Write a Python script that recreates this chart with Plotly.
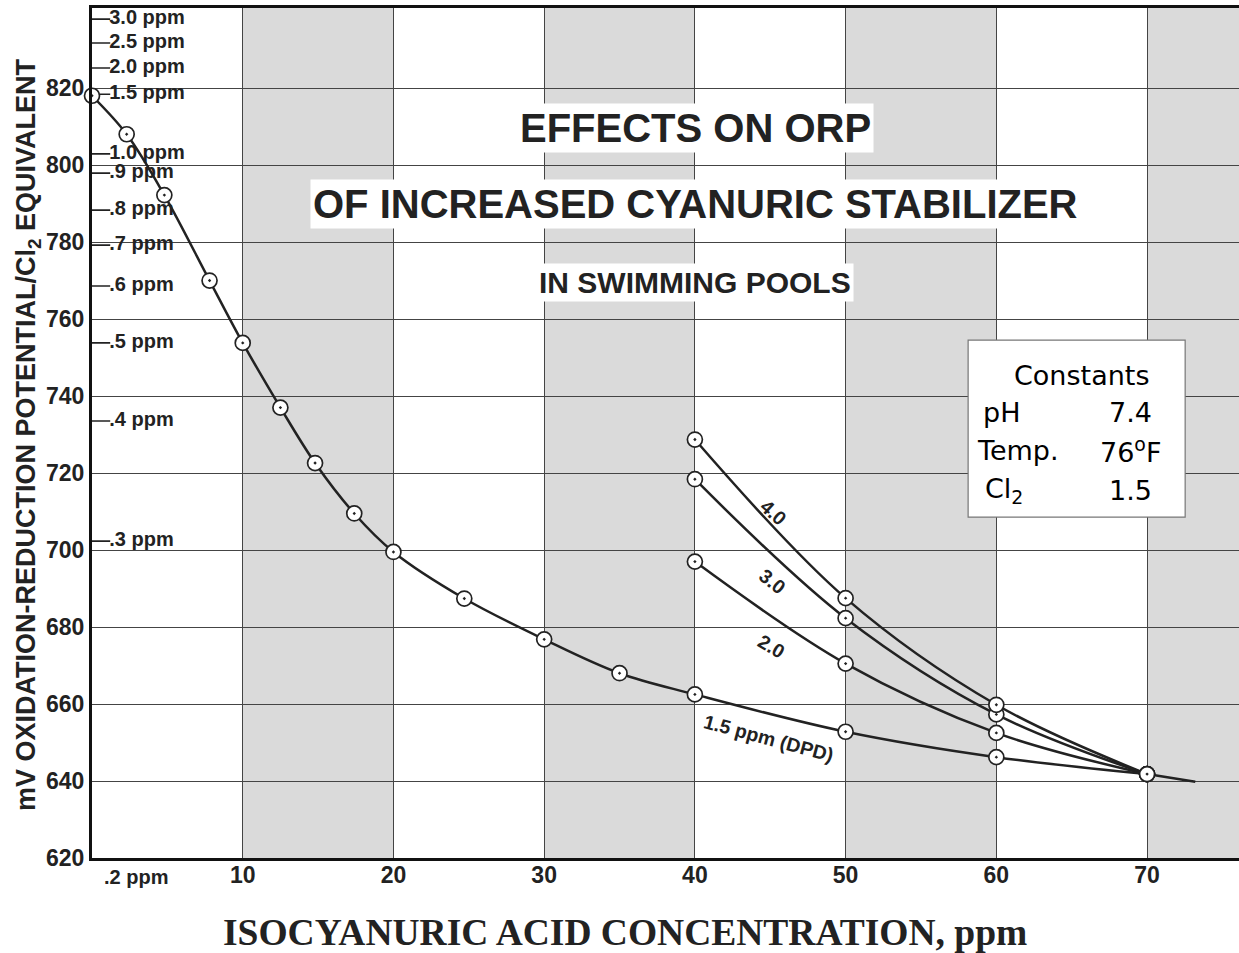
import plotly.graph_objects as go

# ---------------- data ----------------
# main curve: 1.5 ppm (DPD)
main_x = [0, 2.3, 4.8, 7.8, 10, 12.5, 14.8, 17.4, 20, 24.7, 30, 35, 40, 50, 60, 70]
main_y = [818, 808, 792.2, 770, 753.8, 737, 722.6, 709.5, 699.5, 687.4, 676.8, 668, 662.5, 652.8, 646.2, 641.8]
tail_x = [70, 73.2]
tail_y = [641.8, 639.8]

branch_x = [40, 50, 60, 70]
curve_40_y = [728.7, 687.5, 659.8, 641.8]
curve_30_y = [718.4, 682.3, 657.3, 641.8]
curve_20_y = [697.0, 670.5, 652.5, 641.8]

# free chlorine equivalents shown along the left axis
ppm_labels = ["3.0 ppm", "2.5 ppm", "2.0 ppm", "1.5 ppm", "1.0 ppm", ".9 ppm",
              ".8 ppm", ".7 ppm", ".6 ppm", ".5 ppm", ".4 ppm", ".3 ppm"]
ppm_mv = [837.9, 831.7, 825.2, 818.4, 802.9, 797.9, 788.3, 779.2, 768.6, 753.8, 733.5, 702.3]

x_ticks = [10, 20, 30, 40, 50, 60, 70]
y_ticks = [620, 640, 660, 680, 700, 720, 740, 760, 780, 800, 820]
shaded_bands = [(10, 20), (30, 40), (50, 60), (70, 80)]

X_RANGE = [0, 76.1]
Y_RANGE = [620, 840.8]

INK = "#222222"
BOLD = "Liberation Sans"


def bf(size, family=BOLD, color=INK):
    return dict(family=family, size=size, color=color, weight="bold")


fig = go.Figure()

marker_style = dict(symbol="circle-dot", size=15, color="white",
                    line=dict(color=INK, width=1.7))

# ppm tick marks + labels on the left
fig.add_trace(go.Scatter(
    x=[0] * len(ppm_mv), y=ppm_mv, mode="markers+text",
    marker=dict(symbol="line-ew", size=26, line=dict(color=INK, width=1.6)),
    text=ppm_labels, textposition="middle right",
    textfont=bf(20),
    hoverinfo="skip", showlegend=False, cliponaxis=True))

line_style = dict(color=INK, width=2.5, shape="spline", smoothing=1.0)

for ys in (curve_40_y, curve_30_y, curve_20_y):
    fig.add_trace(go.Scatter(x=branch_x, y=ys, mode="lines", line=line_style,
                             showlegend=False, hoverinfo="skip"))

fig.add_trace(go.Scatter(x=main_x, y=main_y, mode="lines", line=line_style,
                         showlegend=False, hoverinfo="skip"))
fig.add_trace(go.Scatter(x=tail_x, y=tail_y, mode="lines", line=line_style,
                         showlegend=False, hoverinfo="skip"))

for ys in (curve_20_y, curve_30_y, curve_40_y):
    fig.add_trace(go.Scatter(x=branch_x, y=ys, mode="markers", marker=marker_style,
                             showlegend=False, cliponaxis=False))
fig.add_trace(go.Scatter(x=main_x, y=main_y, mode="markers", marker=marker_style,
                         showlegend=False, cliponaxis=False))

# shaded columns
for a, b in shaded_bands:
    fig.add_shape(type="rect", xref="x", yref="y", x0=a, x1=b, y0=Y_RANGE[0], y1=Y_RANGE[1],
                  fillcolor="rgb(218,218,218)", line=dict(width=0), layer="below")


def px_to_x(px):
    return (px - 92) / 15.07


def py_to_y(py):
    return 620 + (858 - py) / 3.85


# titles inside the plot
for txt, py, size in [("EFFECTS ON ORP", 128, 40),
                      ("OF INCREASED CYANURIC STABILIZER", 204, 40),
                      ("IN SWIMMING POOLS", 282, 30)]:
    fig.add_annotation(x=px_to_x(695), y=py_to_y(py), xref="x", yref="y", text=txt,
                       showarrow=False, bgcolor="white", borderpad=2,
                       font=bf(size))

# curve labels
for txt, px, py, ang in [("4.0", 773, 512, 42), ("3.0", 772, 581, 38),
                         ("2.0", 771, 646, 30), ("1.5 ppm (DPD)", 768, 738, 15)]:
    fig.add_annotation(x=px_to_x(px), y=py_to_y(py), xref="x", yref="y", text=txt,
                       showarrow=False, textangle=ang, font=bf(19.5))

# constants box
fig.add_shape(type="rect", xref="x", yref="y",
              x0=px_to_x(968), x1=px_to_x(1185), y0=py_to_y(517), y1=py_to_y(340),
              fillcolor="white", line=dict(color="#777777", width=1.2), layer="above")
CF = dict(family="DejaVu Sans", size=27, color="black")
fig.add_annotation(x=px_to_x(1081), y=py_to_y(375), xref="x", yref="y", text="Constants",
                   showarrow=False, font=CF)
for lab, val, lx, py in [("pH", "7.4", 981, 412), ("Temp.", "76<sup>o</sup>F", 975, 450),
                         ("Cl<sub>2</sub>", "1.5", 983, 490)]:
    fig.add_annotation(x=px_to_x(lx), y=py_to_y(py), xref="x", yref="y", text=lab,
                       showarrow=False, xanchor="left", font=CF)
    fig.add_annotation(x=px_to_x(1130), y=py_to_y(py), xref="x", yref="y", text=val,
                       showarrow=False, font=CF)

# axis titles
fig.add_annotation(x=(28 - 92) / 1147, y=(858 - 435) / 850, xref="paper", yref="paper",
                   xanchor="center", yanchor="middle",
                   text="mV OXIDATION-REDUCTION POTENTIAL/Cl<sub>2</sub> EQUIVALENT",
                   textangle=-90, showarrow=False, font=bf(27))
fig.add_annotation(x=(625 - 92) / 1147, y=(858 - 932) / 850, xref="paper", yref="paper",
                   xanchor="center", yanchor="middle",
                   text="ISOCYANURIC ACID CONCENTRATION, ppm", showarrow=False,
                   font=bf(37.5, family="Liberation Serif"))
fig.add_annotation(x=0, y=(858 - 877) / 850, xref="x", yref="paper", text=".2 ppm",
                   xanchor="left", yanchor="middle", xshift=10, showarrow=False,
                   font=bf(20))

fig.update_xaxes(range=X_RANGE, tickvals=x_ticks, showgrid=True, gridcolor="#444444",
                 gridwidth=1.2, zeroline=False, showline=True, linecolor="#111111",
                 linewidth=3, mirror=True, ticks="", tickfont=bf(23),
                 ticklabelstandoff=-6)
fig.update_yaxes(range=Y_RANGE, tickvals=y_ticks, showgrid=True, gridcolor="#444444",
                 gridwidth=1.2, zeroline=False, showline=True, linecolor="#111111",
                 linewidth=3, ticks="", tickfont=bf(23))

fig.update_layout(width=1239, height=953, margin=dict(l=92, r=0, t=8, b=95),
                  plot_bgcolor="white", paper_bgcolor="white", showlegend=False)

fig.write_html("out.html", config={"displayModeBar": False},
               post_script="document.body.style.margin='0';document.body.style.overflow='hidden';")
